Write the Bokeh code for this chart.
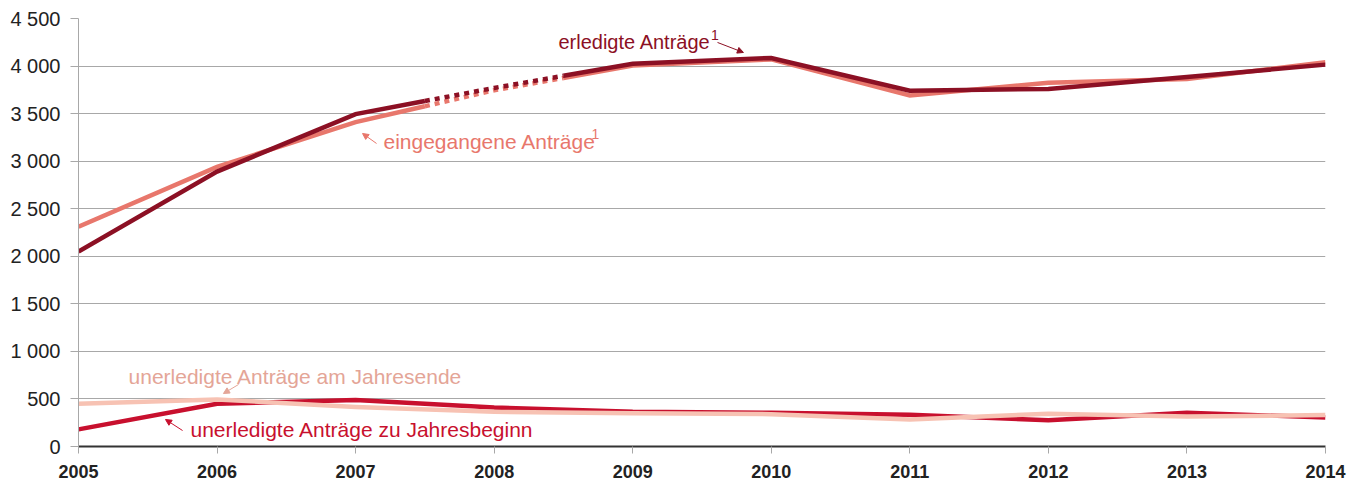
import numpy as np
from bokeh.plotting import figure
from bokeh.models import Range1d, FixedTicker, Label, Arrow, NormalHead
from bokeh.embed import file_html
from bokeh.resources import INLINE

years = [2005, 2006, 2007, 2008, 2009, 2010, 2011, 2012, 2013, 2014]
eingegangene = [2310, 2940, 3410, 3745, 4005, 4070, 3690, 3825, 3865, 4040]
erledigte = [2050, 2890, 3495, 3770, 4025, 4085, 3740, 3760, 3885, 4015]
unerledigt_ende = [450, 495, 415, 365, 350, 340, 285, 345, 315, 330]
unerledigt_beginn = [180, 450, 490, 410, 365, 355, 335, 275, 355, 305]

y_ticks = [0, 500, 1000, 1500, 2000, 2500, 3000, 3500, 4000, 4500]
y_tick_labels = ["0", "500", "1 000", "1 500", "2 000", "2 500", "3 000", "3 500", "4 000", "4 500"]

C_ERL = "#8C1024"
C_EIN = "#E8776C"
C_END = "#F7C2B3"
C_END_TXT = "#E4A597"
C_BEG = "#C8102E"

FONT = "Liberation Sans"

p = figure(width=1357, height=480, output_backend="svg", toolbar_location=None,
           x_range=Range1d(2005, 2014), y_range=Range1d(0, 4500),
           min_border_left=78, min_border_right=32, min_border_top=18, min_border_bottom=34)
p.outline_line_color = None
p.background_fill_color = "white"
p.border_fill_color = "white"

p.xgrid.grid_line_color = None
p.ygrid.grid_line_color = "#A8A8A8"
p.ygrid.grid_line_width = 1
p.ygrid.ticker = FixedTicker(ticks=y_ticks)

p.yaxis.ticker = FixedTicker(ticks=y_ticks)
p.yaxis.major_label_overrides = {t: l for t, l in zip(y_ticks, y_tick_labels)}
p.yaxis.axis_line_color = "#A8A8A8"
p.yaxis.major_tick_line_color = "#A8A8A8"
p.yaxis.major_tick_out = 8
p.yaxis.major_tick_in = 0
p.yaxis.minor_tick_line_color = None
p.yaxis.major_label_standoff = 10
p.yaxis.major_label_text_font = FONT
p.yaxis.major_label_text_font_size = "20px"
p.yaxis.major_label_text_color = "#222222"

p.xaxis.ticker = FixedTicker(ticks=years)
p.xaxis.axis_line_color = "#333333"
p.xaxis.axis_line_width = 2
p.xaxis.major_tick_line_color = "#A8A8A8"
p.xaxis.major_tick_out = 7
p.xaxis.major_tick_in = 0
p.xaxis.minor_tick_line_color = None
p.xaxis.major_label_standoff = 11
p.xaxis.major_label_text_font = FONT
p.xaxis.major_label_text_font_style = "bold"
p.xaxis.major_label_text_font_size = "18px"
p.xaxis.major_label_text_color = "#222222"

LW = 4.5

# lower series
p.line(years, unerledigt_beginn, line_color=C_BEG, line_width=LW, line_join="miter")
p.line(years, unerledigt_ende, line_color=C_END, line_width=LW, line_join="miter")

# upper series with dotted section between 2007.5 and 2008.5
def split_draw(vals, color):
    x = np.array(years, dtype=float)
    v = np.array(vals, dtype=float)
    xm1, vm1 = (x[2] + x[3]) / 2, (v[2] + v[3]) / 2
    xm2, vm2 = (x[3] + x[4]) / 2, (v[3] + v[4]) / 2
    p.line(list(x[:3]) + [xm1], list(v[:3]) + [vm1], line_color=color, line_width=LW, line_join="miter")
    p.line([xm1, x[3], xm2], [vm1, v[3], vm2], line_color=color, line_width=LW, line_dash="5 5")
    p.line([xm2] + list(x[4:]), [vm2] + list(v[4:]), line_color=color, line_width=LW, line_join="miter")

split_draw(eingegangene, C_EIN)
split_draw(erledigte, C_ERL)

# annotations
def lab(x, y, text, color, size="21px"):
    p.add_layout(Label(x=x, y=y, text=text, text_color=color, text_font=FONT,
                       text_font_size=size, text_baseline="alphabetic", text_align="left"))

def arr(x0, y0, x1, y1, color):
    p.add_layout(Arrow(x_start=x0, y_start=y0, x_end=x1, y_end=y1, line_color=color, line_width=1,
                       end=NormalHead(size=6, fill_color=color, line_color=color)))

lab(2008.464, 4250, "erledigte Anträge", C_ERL, "20px")
lab(2009.565, 4330, "1", C_ERL, "14px")
arr(2009.612, 4248, 2009.799, 4143, C_ERL)

lab(2007.201, 3205, "eingegangene Anträge", C_EIN)
lab(2008.702, 3285, "1", C_EIN, "14px")
arr(2007.151, 3186, 2007.050, 3291, C_EIN)

lab(2005.361, 735, "unerledigte Anträge am Jahresende", C_END_TXT)
arr(2006.155, 652, 2006.046, 557, C_END_TXT)

lab(2005.808, 175, "unerledigte Anträge zu Jahresbeginn", C_BEG)
arr(2005.751, 168, 2005.628, 284, C_BEG)

open("out.html", "w").write(file_html(p, INLINE))
